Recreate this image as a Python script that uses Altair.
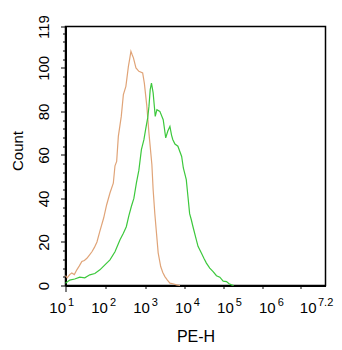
import math
import altair as alt
import pandas as pd

# ---- data (x = log10 of PE-H, y = count) ----
orange_x = [1.00, 1.04, 1.10, 1.15, 1.21, 1.27, 1.33, 1.39, 1.45, 1.51, 1.57, 1.63,
            1.69, 1.75, 1.82, 1.91, 1.98, 2.06, 2.14, 2.18, 2.22, 2.26, 2.33, 2.38,
            2.44, 2.50, 2.53, 2.56, 2.59, 2.62, 2.68, 2.75, 2.84, 2.88, 2.94, 2.99,
            3.06, 3.09, 3.13, 3.17, 3.21, 3.27, 3.32, 3.37, 3.43, 3.49, 3.56, 3.65, 3.73]
orange_y = [4.5, 3.5, 5.0, 5.7, 5.0, 7.2, 9.0, 11.0, 11.5, 12.5, 14.0, 15.5,
            17.5, 20.0, 25.0, 31.0, 37.0, 42.5, 47.0, 55.0, 57.0, 68.5, 77.7, 87.7,
            91.5, 100.7, 104.0, 107.6, 106.0, 104.6, 100.0, 98.4, 97.7, 93.0, 82.3, 70.0,
            55.5, 44.0, 33.0, 24.0, 15.0, 8.7, 6.0, 4.1, 2.5, 1.1, 0.8, 0.3, 0.0]

green_x = [1.00, 1.10, 1.22, 1.34, 1.46, 1.58, 1.70, 1.82, 1.94, 2.06, 2.18, 2.30,
           2.38, 2.45, 2.51, 2.57, 2.63, 2.69, 2.75, 2.81, 2.87, 2.91, 2.96, 2.99,
           3.02, 3.05, 3.09, 3.12, 3.14, 3.18, 3.25, 3.33, 3.39, 3.44, 3.49, 3.53,
           3.56, 3.61, 3.68, 3.77, 3.81, 3.84, 3.88, 3.92, 3.96, 4.00, 4.04, 4.12,
           4.16, 4.24, 4.30, 4.36, 4.44, 4.52, 4.60, 4.68, 4.76, 4.84, 4.90, 4.96, 5.01]
green_y = [1.0, 2.5, 3.0, 3.8, 3.5, 4.9, 5.5, 7.2, 9.5, 11.8, 15.5, 21.0,
           24.0, 27.0, 32.0, 36.3, 40.0, 47.0, 53.0, 62.4, 67.0, 71.6, 77.0, 82.3,
           90.0, 93.0, 88.5, 82.0, 77.7, 80.8, 80.0, 76.2, 67.8, 71.0, 73.1, 69.0,
           67.0, 65.0, 64.0, 59.3, 54.0, 51.7, 48.6, 40.9, 33.0, 30.2, 27.0, 21.0,
           18.0, 14.9, 12.5, 10.3, 8.0, 6.4, 4.5, 3.8, 2.0, 1.8, 0.8, 0.3, 0.0]

x_major_ticks = [1, 2, 3, 4, 5, 6, 7, 7.2]
x_label_pos = [1, 2, 3, 4, 5, 6]
x_label_exp = ["1", "2", "3", "4", "5", "6"]
x_end = [7.2]
x_end_labels = ["7.2"]
y_major = [0, 20, 40, 60, 80, 100, 119]

# ---- tables ----
df = pd.concat([
    pd.DataFrame({"x": orange_x, "y": orange_y, "s": "isotype"}),
    pd.DataFrame({"x": green_x, "y": green_y, "s": "sample"}),
])
df_lab = pd.DataFrame({"x": x_label_pos, "e": x_label_exp})
df_end = pd.DataFrame({"x": x_end, "e": x_end_labels})

x_ticks = [float(v) for v in x_major_ticks]
for d in range(1, 7):
    for k in range(2, 10):
        x_ticks.append(d + math.log10(k))
y_ticks = list(range(0, 117, 4)) + [119]

W, H = 260, 259
FONT = "Liberation Sans"

xs = alt.Scale(domain=[1, 7.2], nice=False, zero=False)
ys = alt.Scale(domain=[0, 119], nice=False)

x_axis = alt.Axis(
    values=x_ticks, labels=False, grid=False, domainColor="black", domainWidth=2,
    tickColor="black", tickWidth=1,
    tickSize={"condition": {"test": "abs(datum.value - round(datum.value)) < 1e-6 || abs(datum.value - 7.2) < 1e-6", "value": 6}, "value": 3},
    title="PE-H", titleFont=FONT, titleFontSize=16, titleFontWeight="normal",
    titleColor="black", titleY=51, titleBaseline="middle",
)
y_axis = alt.Axis(
    values=y_ticks, grid=False, domainColor="black", domainWidth=2,
    tickColor="black", tickWidth=1,
    tickSize={"condition": {"test": "datum.value % 20 == 0 || datum.value == 119", "value": 5}, "value": 3},
    labelExpr="(datum.value % 20 == 0 || datum.value == 119) ? datum.label : ''",
    labelAngle=270, labelAlign="center", labelBaseline="alphabetic",
    labelPadding=12.5, labelFont=FONT, labelFontSize=15, labelColor="black",
    labelOverlap=False, labelFlush=False,
    title="Count", titleFont=FONT, titleFontSize=15, titleFontWeight="normal",
    titleColor="black", titleX=-48.5, titleY=124, titleAngle=270,
    titleAlign="center", titleBaseline="middle",
)

lines = alt.Chart(df).mark_line(strokeWidth=1.2).encode(
    x=alt.X("x:Q", scale=xs, axis=x_axis),
    y=alt.Y("y:Q", scale=ys, axis=y_axis),
    color=alt.Color("s:N", scale=alt.Scale(domain=["isotype", "sample"],
                                           range=["#e0a478", "#3cc83c"]), legend=None),
    order="x:Q",
)

base10 = alt.Chart(df_lab).mark_text(align="right", baseline="alphabetic", font=FONT,
                                     fontSize=15, color="black", dx=0.5).encode(
    x=alt.X("x:Q", scale=xs), y=alt.value(H + 27.5), text=alt.value("10"))
sup = alt.Chart(df_lab).mark_text(align="left", baseline="alphabetic", font=FONT,
                                  fontSize=11, color="black", dx=2.5).encode(
    x=alt.X("x:Q", scale=xs), y=alt.value(H + 20.5), text="e:N")
base_end = alt.Chart(df_end).mark_text(align="right", baseline="alphabetic", font=FONT,
                                       fontSize=15, color="black", dx=-9).encode(
    x=alt.X("x:Q", scale=xs), y=alt.value(H + 27.5), text=alt.value("10"))
sup_end = alt.Chart(df_end).mark_text(align="left", baseline="alphabetic", font=FONT,
                                      fontSize=11, color="black", dx=-7.5).encode(
    x=alt.X("x:Q", scale=xs), y=alt.value(H + 20.5), text="e:N")

chart = alt.layer(lines, base10, sup, base_end, sup_end).properties(
    width=W, height=H,
    autosize=alt.AutoSizeParams(type="none"),
    padding={"left": 65.5, "top": 26.5, "right": 16.5, "bottom": 64.5},
    background="white",
).configure_view(stroke="black", strokeWidth=1.5)

chart.save("out.html", embed_options={"renderer": "svg", "actions": False})
